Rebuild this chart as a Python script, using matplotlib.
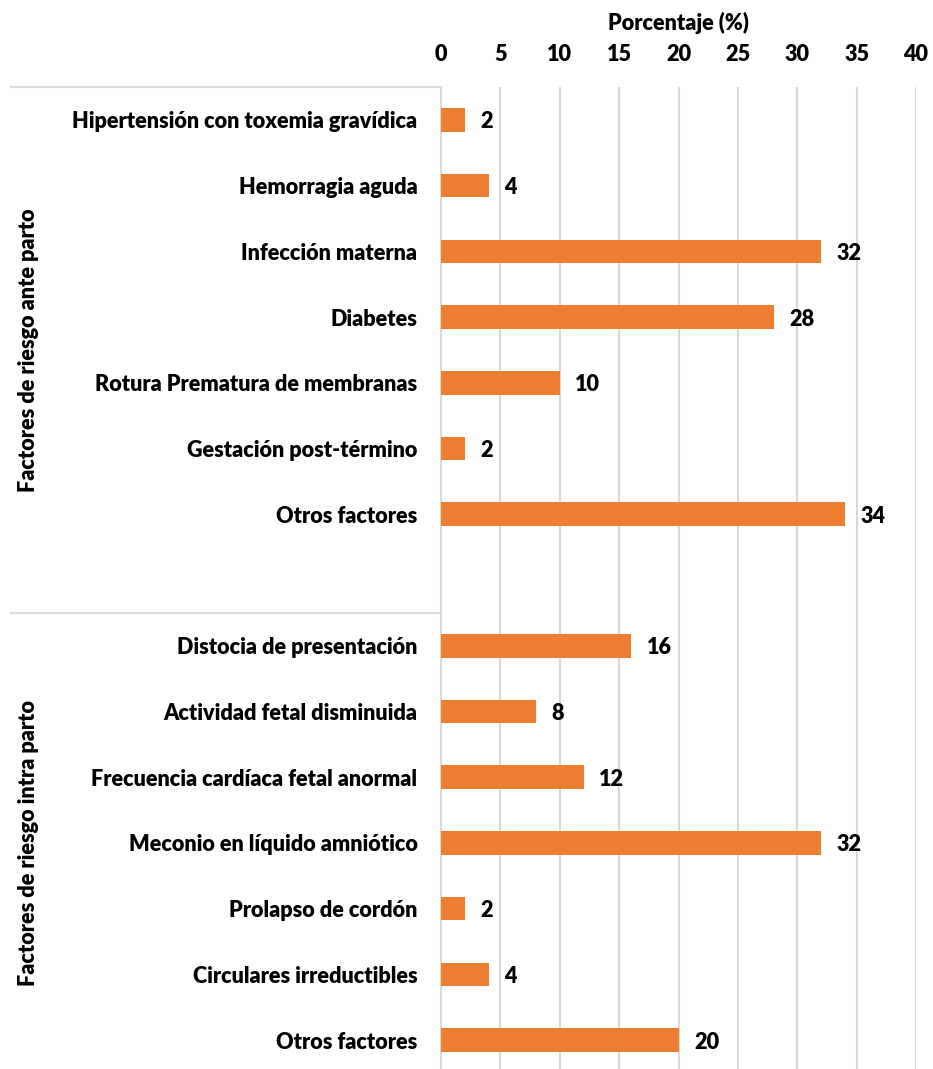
import numpy as np
import matplotlib.pyplot as plt

plt.rcParams['font.family'] = ['Lato', 'DejaVu Sans']
plt.rcParams['font.weight'] = 'heavy'

# Factores de riesgo ante parto
ante_labels = ['Hipertensión con toxemia gravídica', 'Hemorragia aguda', 'Infección materna',
               'Diabetes', 'Rotura Prematura de membranas', 'Gestación post-término',
               'Otros factores']
ante_values = [2, 4, 32, 28, 10, 2, 34]

# Factores de riesgo intra parto
intra_labels = ['Distocia de presentación', 'Actividad fetal disminuida',
                'Frecuencia cardíaca fetal anormal', 'Meconio en líquido amniótico',
                'Prolapso de cordón', 'Circulares irreductibles', 'Otros factores']
intra_values = [16, 8, 12, 32, 2, 4, 20]

group_names = ['Factores de riesgo ante parto', 'Factores de riesgo intra parto']

# one empty slot closes the first group
labels = ante_labels + [''] + intra_labels
values = ante_values + [np.nan] + intra_values
pos = np.arange(len(labels))

W, H = 933, 1069
fig = plt.figure(figsize=(W / 100, H / 100), dpi=100)
left, right, top, bottom = 441, 916, 87, 1073
ax = fig.add_axes([left / W, (H - bottom) / H, (right - left) / W, (bottom - top) / H])

fs = 15.6
orange = '#ED7D31'
ax.barh(pos, values, height=0.36, color=orange, zorder=3)
for p, v in zip(pos, values):
    if not np.isnan(v):
        ax.text(v + 1.3, p + 0.03, f'{v:g}', va='center', ha='left', fontsize=fs,
                fontweight='heavy', zorder=4)

ax.set_xlim(0, 40)
ax.set_ylim(len(labels) - 0.5, -0.5)
ax.set_xticks(np.arange(0, 41, 5))
ax.xaxis.tick_top()
ax.xaxis.set_label_position('top')
ax.set_xlabel('Porcentaje (%)', fontsize=fs, fontweight='heavy', labelpad=10)
ax.tick_params(axis='x', length=0, pad=16, labelsize=fs)
ax.set_yticks(pos)
ax.set_yticklabels(labels, fontsize=fs, fontweight='heavy')
ax.tick_params(axis='y', length=0, pad=17)

ax.grid(axis='x', color='#D9D9D9', linewidth=1.5, zorder=0)
for s in ['top', 'right', 'bottom']:
    ax.spines[s].set_visible(False)
ax.spines['left'].set_color('#D9D9D9')
ax.spines['left'].set_linewidth(1.5)

# group separators on the category side
trans = ax.get_yaxis_transform()
x0 = -(left - 11) / (right - left)
for yb in [-0.5, 7.5]:
    ax.plot([x0, 0], [yb, yb], transform=trans, color='#D9D9D9', linewidth=1.5,
            clip_on=False)

# group names
for name, yc in zip(group_names, [(top + 613) / 2, (613 + bottom) / 2]):
    fig.text(29 / W, 1 - yc / H, name, rotation=90, ha='center', va='center',
             fontsize=fs, fontweight='heavy')

fig.savefig('out.png', dpi=100)
